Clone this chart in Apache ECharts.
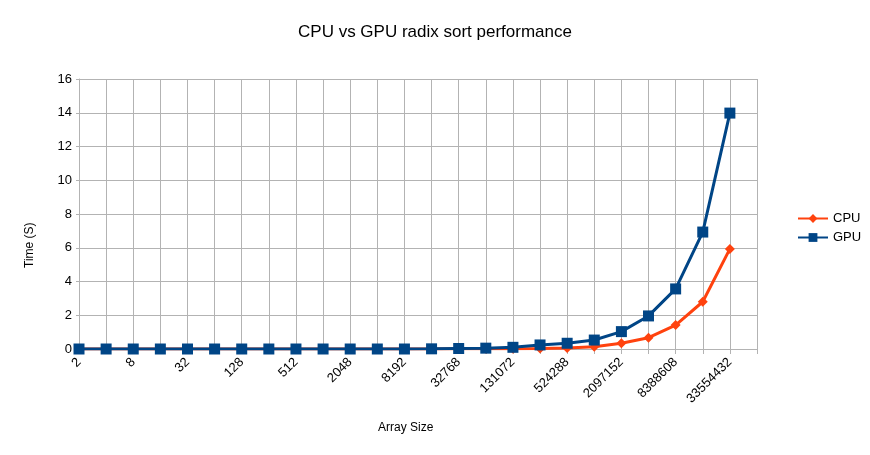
<!DOCTYPE html>
<html><head><meta charset="utf-8">
<script src="https://cdn.jsdelivr.net/npm/echarts@6/dist/echarts.min.js"></script>
<style>html,body{margin:0;padding:0;background:#fff}#c{width:870px;height:455px}</style>
</head><body><div id="c"></div>
<script>
var categories = ["2","4","8","16","32","64","128","256","512","1024","2048","4096","8192","16384","32768","65536","131072","262144","524288","1048576","2097152","4194304","8388608","16777216","33554432"];
var cpu = [0,0,0,0,0,0,0,0,0,0,0,0,0,0,0.01,0.01,0.02,0.03,0.06,0.14,0.34,0.67,1.42,2.8,5.93];
var gpu = [0,0,0,0,0,0,0,0,0,0,0,0,0,0.01,0.03,0.05,0.1,0.24,0.34,0.53,1.03,1.96,3.56,6.93,13.98];
var yTicks = {min:0, max:16, interval:2};
var F = '"Liberation Sans", Arial, sans-serif';
var chart = echarts.init(document.getElementById('c'));
chart.setOption({
  animation:false,
  title:{text:'CPU vs GPU radix sort performance', left:'center', top:19,
    textStyle:{fontFamily:F, fontSize:17, fontWeight:'normal', color:'#000'}},
  grid:{left:79, right:113, top:79, bottom:106, containLabel:false},
  legend:{orient:'vertical', left:792, top:207, itemWidth:30, itemHeight:11, itemGap:6,
    textStyle:{fontFamily:F, fontSize:13, color:'#000'}, data:['CPU','GPU']},
  xAxis:{type:'category', data:categories, boundaryGap:false, max:25,
    axisLine:{lineStyle:{color:'#b3b3b3'}},
    axisTick:{show:true, interval:0, length:5, lineStyle:{color:'#b3b3b3'}},
    splitLine:{show:true, interval:0, lineStyle:{color:'#b3b3b3'}},
    axisLabel:{interval:1, rotate:45, fontFamily:F, fontSize:13, color:'#000', margin:11}},
  yAxis:{type:'value', min:yTicks.min, max:yTicks.max, interval:yTicks.interval,
    axisLine:{show:true, lineStyle:{color:'#b3b3b3'}},
    axisTick:{show:true, length:3, lineStyle:{color:'#b3b3b3'}},
    splitLine:{lineStyle:{color:'#b3b3b3'}},
    axisLabel:{fontFamily:F, fontSize:13, color:'#000', margin:7}},
  graphic:[
    {type:'text', left:378, top:422, style:{text:'Array Size', font:'12px '+F, fill:'#000'}},
    {type:'text', x:24, y:268, rotation:Math.PI/2, style:{text:'Time (S)', font:'12px '+F, fill:'#000'}}
  ],
  series:[
    {name:'CPU', type:'line', data:cpu, symbol:'diamond', symbolSize:10, showAllSymbol:true,
      itemStyle:{color:'#ff420e'}, lineStyle:{width:3, color:'#ff420e'}, z:2},
    {name:'GPU', type:'line', data:gpu, symbol:'rect', symbolSize:11, showAllSymbol:true,
      itemStyle:{color:'#004586'}, lineStyle:{width:3, color:'#004586'}, z:3}
  ]
});
</script></body></html>
